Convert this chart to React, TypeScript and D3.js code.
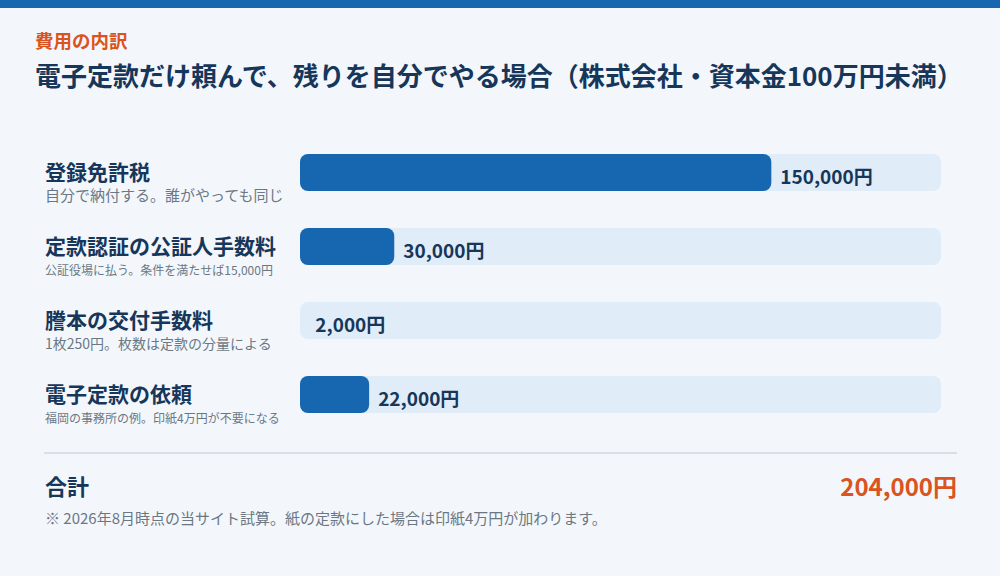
import { useEffect, useRef } from 'react'
import * as d3 from 'd3'

// cost breakdown (yen)
const items = ['登録免許税', '定款認証の公証人手数料', '謄本の交付手数料', '電子定款の依頼']
const notes = [
  '自分で納付する。誰がやっても同じ',
  '公証役場に払う。条件を満たせば15,000円',
  '1枚250円。枚数は定款の分量による',
  '福岡の事務所の例。印紙4万円が不要になる',
]
const amounts = [150000, 30000, 2000, 22000]

const eyebrow = '費用の内訳'
const title = '電子定款だけ頼んで、残りを自分でやる場合（株式会社・資本金100万円未満）'
const totalLabel = '合計'
const footnote = '※ 2026年8月時点の当サイト試算。紙の定款にした場合は印紙4万円が加わります。'

const W = 1000
const H = 576
const FONT = '"Noto Sans CJK JP", "Noto Sans", sans-serif'

const BLUE = '#1767b0'
const TRACK = '#e0ecf8'
const INK = '#16365a'
const GREY = '#6b7785'
const ORANGE = '#d9541e'

export default function App() {
  const svgRef = useRef<SVGSVGElement>(null)

  const total = d3.sum(amounts)
  const fmt = d3.format(',')

  const x = d3.scaleLinear().domain([0, total]).range([300, 941])
  const y = d3.scaleBand<string>().domain(items).range([154, 413]).paddingInner(0.5)
  const bh = y.bandwidth()
  const rx = 8

  // shrink the small notes (whole px) so they stay left of the bars
  useEffect(() => {
    if (!svgRef.current) return
    const maxW = 242
    d3.select(svgRef.current)
      .selectAll<SVGTextElement, unknown>('text.note')
      .each(function () {
        const t = d3.select(this).style('font-size', '15px')
        const w = this.getComputedTextLength()
        if (w > maxW) t.style('font-size', `${Math.floor((15 * maxW) / w)}px`)
      })
  }, [])

  return (
    <svg
      ref={svgRef}
      width={W}
      height={H}
      style={{ position: 'absolute', left: 0, top: 0, fontFamily: FONT }}
    >
      <rect width={W} height={H} fill="#f3f7fb" />
      <rect width={W} height={8} fill={BLUE} />

      <text x={35} y={48} fill={ORANGE} fontSize={18.5} fontWeight={700}>{eyebrow}</text>
      <text x={35} y={86} fill={INK} fontSize={26} fontWeight={700}>{title}</text>

      {items.map((d, i) => {
        const y0 = y(d) as number
        const end = x(amounts[i])
        const w = end - x(0)
        return (
          <g key={d}>
            <text x={45} y={y0 + 26} fill={INK} fontSize={21} fontWeight={700}>{d}</text>
            <text className="note" x={45} y={y0 + 47} fill={GREY} style={{ fontSize: 15 }}>{notes[i]}</text>
            <rect x={x(0)} y={y0} width={x(total) - x(0)} height={bh} rx={rx} fill={TRACK} />
            {w >= rx * 2 && (
              <rect x={x(0)} y={y0} width={w} height={bh} rx={rx} fill={BLUE} />
            )}
            <text x={end + 9} y={y0 + 30} fill={INK} fontSize={19} fontWeight={700}>
              {fmt(amounts[i])}円
            </text>
          </g>
        )
      })}

      <line x1={44} x2={957} y1={453} y2={453} stroke="#d7dfe8" strokeWidth={2} />
      <text x={45} y={495} fill={INK} fontSize={22} fontWeight={700}>{totalLabel}</text>
      <text x={957} y={496} fill={ORANGE} fontSize={24} fontWeight={700} textAnchor="end">
        {fmt(total)}円
      </text>
      <text x={45} y={524} fill={GREY} fontSize={15}>{footnote}</text>
    </svg>
  )
}
